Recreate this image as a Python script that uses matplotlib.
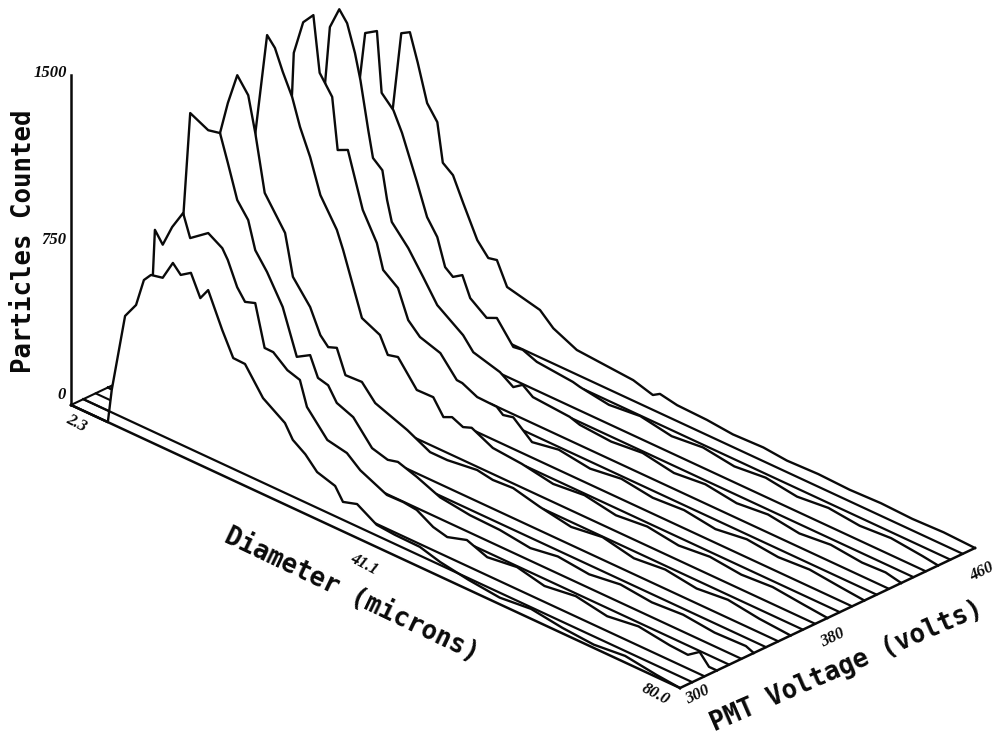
import numpy as np
import matplotlib
matplotlib.use('Agg')
import matplotlib.pyplot as plt

# one pair of lists per PMT voltage, diameter in microns and particles counted
d_300 = [2.3, 7.0, 7.5, 9.2, 10.6, 11.6, 12.5, 14.0, 15.3, 16.3, 17.6, 18.8, 19.8, 21.6, 23.0, 24.5, 26.8, 29.6, 30.6, 32.2, 33.7, 36.0, 37.0, 38.8, 41.3, 43.6, 46.8, 49.4, 53, 57, 61, 65, 69, 73, 77, 80]
c_300 = [0, 0, 155, 519, 592, 722, 760, 772, 861, 823, 854, 759, 812, 660, 556, 554, 437, 370, 310, 271, 215, 190, 134, 154, 101, 94, 92, 66, 45, 30, 45, 25, 15, 30, 10, 0]

d_320 = [2.3, 7.3, 8.3, 9.3, 10.5, 11.9, 12.8, 15.1, 16.9, 17.6, 18.8, 19.8, 21.1, 22.3, 23.4, 25.2, 26.8, 27.7, 30.3, 32.8, 34.5, 37.9, 40.0, 41.7, 43.8, 45.6, 48.1, 50.7, 54.5, 58, 62, 66, 70, 74, 76.3, 77.8, 79, 80]
c_320 = [0, 0, 816, 765, 865, 952, 853, 914, 875, 833, 729, 679, 695, 511, 510, 458, 440, 332, 225, 207, 157, 101, 103, 96, 53, 37, 65, 30, 48, 20, 40, 15, 35, 15, 10, 48, 0, 0]

d_340 = [2.3, 5.8, 8.1, 10.4, 11.9, 12.9, 14.1, 15.5, 16.4, 17.9, 19.9, 21.7, 23.4, 24.4, 25.7, 26.8, 28.9, 31.3, 33.3, 34.6, 37.0, 40.0, 43.8, 47.6, 51.5, 55, 59, 63, 67, 71, 75, 79, 80]
c_340 = [0, 0, 1264, 1224, 1236, 1117, 968, 900, 778, 704, 578, 381, 417, 330, 318, 256, 226, 125, 105, 117, 89, 45, 27, 23, 5, 25, 10, 30, 15, 25, 10, 15, 0]

d_360 = [2.3, 5.3, 7.2, 8.2, 9.4, 10.8, 11.7, 12.9, 15.5, 15.9, 16.5, 18.7, 20.0, 21.0, 22.1, 23.2, 25.3, 27.0, 31.1, 34.0, 36.2, 40.0, 42.0, 44.6, 48, 52, 56, 60, 64, 68, 72, 76, 80]
c_360 = [0, 0, 1079, 1232, 1378, 1310, 1153, 901, 762, 690, 579, 478, 372, 334, 349, 243, 247, 179, 124, 72, 72, 90, 78, 84, 55, 30, 50, 20, 35, 15, 30, 10, 0]

d_380 = [2.3, 5.4, 7.0, 8.5, 9.5, 10.5, 11.7, 12.7, 14.0, 15.3, 17.4, 18.2, 20.6, 22.9, 23.9, 25.2, 27.6, 29.7, 31.0, 32.1, 33.5, 34.6, 37.3, 41, 45, 49, 53, 57, 61, 65, 69, 73, 77, 80]
c_380 = [0, 0, 995, 1466, 1424, 1332, 1237, 1118, 1002, 851, 728, 650, 380, 341, 267, 279, 169, 171, 102, 120, 98, 113, 66, 55, 30, 45, 20, 35, 15, 30, 15, 25, 10, 0]

d_400 = [2.3, 5.4, 7.0, 7.2, 8.4, 9.7, 10.5, 11.2, 12.1, 12.8, 14.1, 16.0, 17.8, 18.6, 20.5, 21.8, 23.3, 25.9, 28.0, 28.7, 30.6, 33.1, 33.9, 35.2, 37.6, 41, 45, 49, 53, 57, 61, 65, 69, 73, 77, 80]
c_400 = [0, 0, 1111, 1284, 1443, 1497, 1248, 1212, 1165, 935, 957, 716, 595, 486, 435, 311, 259, 229, 141, 139, 107, 104, 80, 91, 18, 40, 20, 40, 20, 30, 10, 30, 15, 25, 10, 0]

d_420 = [2.3, 5.3, 6.5, 7.1, 8.3, 9.3, 10.3, 11.0, 12.0, 12.6, 13.8, 14.4, 15.0, 17.1, 19.0, 20.8, 24.1, 25.4, 28.8, 30.5, 31.7, 33.0, 37.7, 39.0, 43, 47, 51, 55, 59, 63, 67, 71, 75, 78, 80]
c_420 = [0, 0, 1060, 1320, 1421, 1374, 1255, 1143, 932, 816, 780, 655, 565, 481, 381, 283, 201, 145, 111, 71, 101, 67, 55, 40, 30, 45, 20, 35, 15, 30, 10, 25, 10, 15, 0]

d_440 = [2.3, 5.2, 6.2, 6.9, 8.4, 9.0, 10.5, 11.6, 13.5, 14.8, 16.1, 17.1, 18.1, 19.3, 20.3, 22.4, 23.7, 25.8, 27.0, 28.8, 33.4, 34.3, 38, 42, 46, 50, 54, 58, 62, 66, 70, 74, 78, 80]
c_440 = [0, 0, 986, 1210, 1244, 973, 919, 834, 643, 504, 435, 315, 287, 315, 227, 172, 193, 96, 103, 78, 63, 55, 35, 50, 25, 40, 20, 35, 15, 30, 15, 25, 10, 0]

d_460 = [2.3, 5.1, 5.7, 6.8, 7.9, 8.9, 10.1, 11.4, 12.1, 13.4, 14.7, 16.5, 17.9, 19.0, 20.3, 24.5, 26.2, 29.2, 36.4, 38.9, 39.8, 42.0, 45.8, 49.1, 53, 56, 60, 64, 68, 72, 76, 80]
c_460 = [0, 0, 761, 1128, 1151, 1029, 865, 800, 627, 592, 487, 348, 290, 299, 198, 163, 108, 59, 41, 15, 35, 20, 16, 5, 10, 0, 5, 0, 5, 0, 5, 0]

voltages = [300, 320, 340, 360, 380, 400, 420, 440, 460]
diameters = [d_300, d_320, d_340, d_360, d_380, d_400, d_420, d_440, d_460]
counts = [c_300, c_320, c_340, c_360, c_380, c_400, c_420, c_440, c_460]

n_stripes = 24
ink = '#0a0a0a'


def project(d, v, c=0):
    # oblique view of the floor, in pixels of the picture
    t = (np.asarray(d, float) - 2.3) / 77.7
    s = (np.asarray(v, float) - 300) / 160
    x = 71 + 609 * t + 295 * s
    y = 405 + 283 * t - 140 * s - np.asarray(c, float) * 330 / 1500
    return x, y


def order(v):
    return 100 - 80 * (v - 300) / 160


def stripe_start(d, c, v_curve, v):
    # diameter at which a stripe at voltage v comes out from behind the curve in front
    dv = (v - v_curve) / 160
    level = dv * (140 + 295 * 283 / 609) * 1500 / 330
    i = max(k for k in range(len(c)) if c[k] >= level)
    crossing = d[i] + (d[i + 1] - d[i]) * (c[i] - level) / (c[i] - c[i + 1])
    return crossing - dv * 295 * 77.7 / 609


fig = plt.figure(figsize=(10.01, 7.39), dpi=100)
ax = fig.add_axes([0, 0, 1, 1])
ax.set_xlim(0, 1001)
ax.set_ylim(739, 0)
ax.axis('off')

# floor stripes: the hatching at the left, then only the part that shows behind the tails
for j in range(n_stripes + 1):
    v = 300 + 160 * j / n_stripes
    if j <= 3:
        x, y = project([2.3, 7], [v, v])
        ax.plot(x, y, color=ink, lw=1.5, zorder=order(v), solid_capstyle='round')
    if j % 3 == 0:
        continue
    if j == 1:
        # first stripe runs the whole way, in front of the 300 V curve
        x, y = project([2.3, 80], [v, v])
        ax.plot(x, y, color=ink, lw=1.6, zorder=150)
    else:
        k = j // 3
        start = stripe_start(diameters[k], counts[k], voltages[k], v)
        x, y = project([start, 80], [v, v])
        ax.plot(x, y, color=ink, lw=1.6, zorder=order(v), solid_capstyle='round')

# curves, each one hides what lies behind it
for v, d, c in zip(voltages, diameters, counts):
    x, y = project(d, [v] * len(d), c)
    bx, by = project(d, [v] * len(d))
    ax.fill(np.r_[x, bx[::-1]], np.r_[y, by[::-1]], color='white', lw=0, zorder=order(v) + 0.5)
    ax.plot(x, y, color=ink, lw=1.7, zorder=order(v) + 0.6, solid_joinstyle='round')

# axes
x, y = project([2.3, 2.3], [300, 300], [0, 1500])
ax.plot(x, y, color=ink, lw=1.8, zorder=200)
x, y = project([2.3, 80], [300, 300])
ax.plot(x, y, color=ink, lw=1.8, zorder=200)
x, y = project([80, 80], [300, 460])
ax.plot(x, y, color=ink, lw=1.8, zorder=200)
x, y = project([2.3, 2.3], [300, 322], [0, 0])
ax.plot(x, y, color=ink, lw=1.5, zorder=90)

tick_font = dict(family='Liberation Serif', weight='bold', style='italic', size=12, color=ink,
                 ha='center', va='center', rotation_mode='anchor')
ax.text(50, 73, '1500', **tick_font)
ax.text(54, 240, '750', **tick_font)
ax.text(62, 395, '0', **tick_font)
ax.text(76, 423, '2.3', rotation=-28, **tick_font)
ax.text(364, 564, '41.1', rotation=-28, **tick_font)
ax.text(655, 694, '80.0', rotation=-28, **tick_font)
ax.text(698, 695, '300', rotation=26, **tick_font)
ax.text(833, 638, '380', rotation=26, **tick_font)
ax.text(982, 572, '460', rotation=26, **tick_font)

label_font = dict(family='DejaVu Sans Mono', weight='bold', size=18.5, color=ink,
                  ha='center', va='center', rotation_mode='anchor')
ax.text(24, 241, 'Particles Counted', rotation=90, **label_font)
ax.text(352, 595, 'Diameter (microns)', rotation=-25.5, **label_font)
ax.text(847, 666, 'PMT Voltage (volts)', rotation=23.5, **label_font)

fig.savefig('out.png', dpi=100, facecolor='white')
